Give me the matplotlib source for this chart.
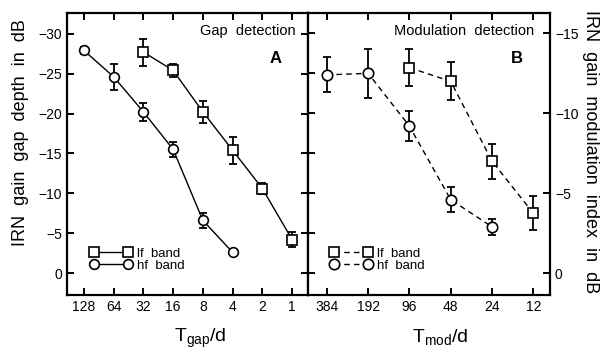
import matplotlib
matplotlib.use("Agg")
import matplotlib.pyplot as plt
from matplotlib.ticker import FixedLocator, MultipleLocator, NullFormatter

plt.rcParams["font.family"] = ["Liberation Sans", "DejaVu Sans"]
plt.rcParams["mathtext.fontset"] = "custom"
plt.rcParams["mathtext.rm"] = "Liberation Sans"

# Panel A: gap detection thresholds (dB) vs gap duration / delay
gap_hf_x = [128, 64, 32, 16, 8, 4]
gap_hf_y = [-27.9, -24.6, -20.2, -15.5, -6.6, -2.6]
gap_hf_err = [0.5, 1.6, 1.1, 0.9, 0.9, 0.2]

gap_lf_x = [32, 16, 8, 4, 2, 1]
gap_lf_y = [-27.7, -25.4, -20.2, -15.4, -10.6, -4.2]
gap_lf_err = [1.7, 0.8, 1.4, 1.7, 0.7, 0.9]

gap_ticks = [128, 64, 32, 16, 8, 4, 2, 1]

# Panel B: modulation detection thresholds (dB) vs modulation period / delay
mod_hf_x = [384, 192, 96, 48, 24]
mod_hf_y = [-12.4, -12.5, -9.2, -4.6, -2.9]
mod_hf_err = [1.1, 1.55, 0.95, 0.8, 0.5]

mod_lf_x = [96, 48, 24, 12]
mod_lf_y = [-12.85, -12.0, -7.0, -3.75]
mod_lf_err = [1.17, 1.2, 1.1, 1.07]

mod_ticks = [384, 192, 96, 48, 24, 12]

FS_TICK = 10
FS_LABEL = 13
W, H = 603, 353


def draw_series(ax, x, y, err, marker, ls, label, ms):
    ax.errorbar(x, y, yerr=err, fmt="none", ecolor="black", elinewidth=1.3,
                capsize=3, capthick=1.3, zorder=2)
    ax.plot(x, y, color="black", lw=1.0, ls=ls, marker=marker, ms=ms,
            mfc="white", mec="black", mew=1.2, label=label, zorder=3)


def style_axes(ax, ticks):
    ax.set_xscale("log", base=2)
    ax.xaxis.set_major_locator(FixedLocator(ticks))
    ax.xaxis.set_minor_locator(FixedLocator([]))
    ax.set_xticklabels([str(t) for t in ticks])
    for s in ax.spines.values():
        s.set_linewidth(1.6)
    ax.tick_params(which="both", direction="in", length=5, width=1.4,
                   labelsize=FS_TICK, top=True, bottom=True)


fig = plt.figure(figsize=(W / 100, H / 100), dpi=100)
ax_a = fig.add_axes([67 / W, 1 - 295 / H, 241 / W, 282 / H])
ax_b = fig.add_axes([308 / W, 1 - 295 / H, 242 / W, 282 / H])

# --- panel A
draw_series(ax_a, gap_lf_x, gap_lf_y, gap_lf_err, "s", "-", "lf  band", 7)
draw_series(ax_a, gap_hf_x, gap_hf_y, gap_hf_err, "o", "-", "hf  band", 7)
style_axes(ax_a, gap_ticks)
ax_a.set_xlim(190, 0.69)
ax_a.set_ylim(2.75, -32.6)
ax_a.yaxis.set_major_locator(MultipleLocator(5))
ax_a.tick_params(axis="y", left=True, right=True)
ax_a.text(0.95, 0.935, "Gap  detection", transform=ax_a.transAxes,
          ha="right", va="center", fontsize=10.5)
ax_a.text(0.867, 0.84, "A", transform=ax_a.transAxes, ha="center",
          va="center", fontsize=12, fontweight="bold")
ax_a.legend(loc="lower left", bbox_to_anchor=(0.045, 0.04), frameon=False,
            numpoints=2, handlelength=3.2, handletextpad=0.4,
            labelspacing=0.0, fontsize=FS_TICK - 0.5)

# --- panel B
draw_series(ax_b, mod_lf_x, mod_lf_y, mod_lf_err, "s", (0, (4, 3)), "lf  band", 7.5)
draw_series(ax_b, mod_hf_x, mod_hf_y, mod_hf_err, "o", (0, (4, 3)), "hf  band", 7.5)
style_axes(ax_b, mod_ticks)
ax_b.set_xlim(526, 9.08)
ax_b.set_ylim(1.36, -16.27)
ax_b.yaxis.set_major_locator(MultipleLocator(5))
ax_b.yaxis.set_minor_locator(MultipleLocator(2.5))
ax_b.yaxis.set_minor_formatter(NullFormatter())
ax_b.yaxis.remove_overlapping_locs = False
ax_b.tick_params(axis="y", which="major", left=False, right=True,
                 labelleft=False, labelright=True)
ax_b.tick_params(axis="y", which="minor", left=True, right=False,
                 length=5, width=1.4)
ax_b.text(0.935, 0.935, "Modulation  detection", transform=ax_b.transAxes,
          ha="right", va="center", fontsize=10.5)
ax_b.text(0.864, 0.84, "B", transform=ax_b.transAxes, ha="center",
          va="center", fontsize=12, fontweight="bold")
ax_b.legend(loc="lower left", bbox_to_anchor=(0.04, 0.04), frameon=False,
            numpoints=2, handlelength=3.2, handletextpad=0.4,
            labelspacing=0.0, fontsize=FS_TICK - 0.5)

# axis titles placed in figure pixels
fig.text(21 / W, 1 - 133 / H, "IRN  gain  gap  depth  in  dB", rotation=90,
         ha="center", va="center", fontsize=FS_LABEL)
fig.text(590 / W, 1 - 152 / H, "IRN  gain  modulation  index  in  dB",
         rotation=270, ha="center", va="center", fontsize=FS_LABEL)
fig.text(200 / W, 1 - 338 / H, r"T$_{\mathrm{gap}}$/d", ha="center",
         va="center", fontsize=FS_LABEL + 1)
fig.text(440 / W, 1 - 338 / H, r"T$_{\mathrm{mod}}$/d", ha="center",
         va="center", fontsize=FS_LABEL + 1)

fig.savefig("out.png", dpi=100)
